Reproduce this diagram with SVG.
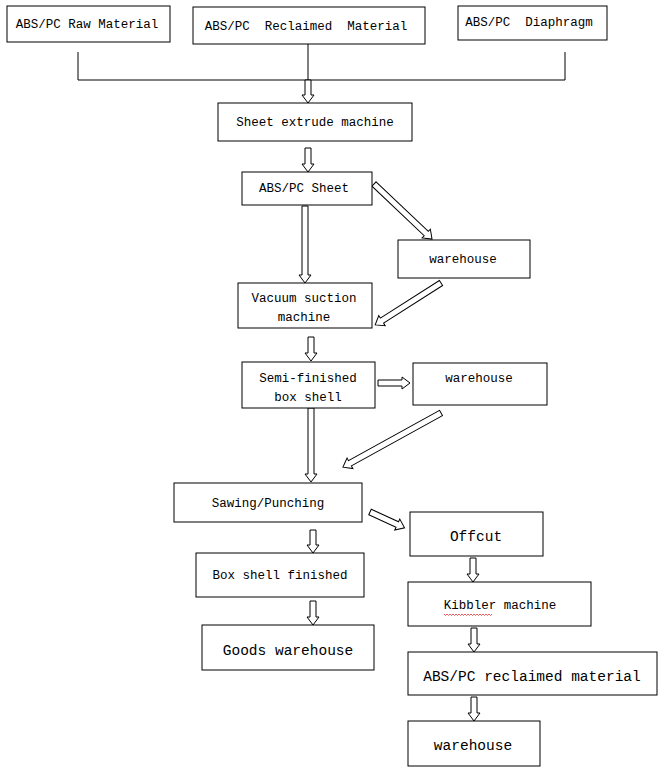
<svg xmlns="http://www.w3.org/2000/svg" width="668" height="778" viewBox="0 0 668 778">
<style>
.box{fill:#fff;stroke:#000;stroke-width:1}
.t{font-family:"Liberation Mono","DejaVu Sans Mono",monospace;font-size:12.5px;fill:#000;text-anchor:middle}
.tl{font-size:14.5px}
.ar{fill:#fff;stroke:#000;stroke-width:1}
.ln{fill:none;stroke:#000;stroke-width:1}
</style>
<rect width="668" height="778" fill="#fff"/>
<g id="connectors">
<path class="ln" d="M78,52V80H565V52M308,44V80"/>
<path class="ar" transform="translate(308,80) rotate(90)" d="M0,-3H15V-6L23,0L15,6V3H0Z"/>
<path class="ar" transform="translate(308,148) rotate(90)" d="M0,-3H16V-6L24,0L16,6V3H0Z"/>
<path class="ar" transform="translate(305,206) rotate(90)" d="M0,-3H69V-6L77,0L69,6V3H0Z"/>
<path class="ar" transform="translate(311,337) rotate(90)" d="M0,-3H16V-6L24,0L16,6V3H0Z"/>
<path class="ar" transform="translate(311,408) rotate(90)" d="M0,-3H66V-6L74,0L66,6V3H0Z"/>
<path class="ar" transform="translate(313,530) rotate(90)" d="M0,-3H15V-6L23,0L15,6V3H0Z"/>
<path class="ar" transform="translate(473,558) rotate(90)" d="M0,-3H16V-6L24,0L16,6V3H0Z"/>
<path class="ar" transform="translate(313,601) rotate(90)" d="M0,-3H16V-6L24,0L16,6V3H0Z"/>
<path class="ar" transform="translate(474,628) rotate(90)" d="M0,-3H16V-6L24,0L16,6V3H0Z"/>
<path class="ar" transform="translate(474,697) rotate(90)" d="M0,-3H16V-6L24,0L16,6V3H0Z"/>
<path class="ar" transform="translate(378,383)" d="M0,-3H24V-6L32,0L24,6V3H0Z"/>
<path class="ar" transform="translate(374,184) rotate(43.5)" d="M0,-3H72V-6L80,0L72,6V3H0Z"/>
<path class="ar" transform="translate(441,283) rotate(147.5)" d="M0,-3H70V-6L78,0L70,6V3H0Z"/>
<path class="ar" transform="translate(441,413) rotate(151.1)" d="M0,-3H104V-6L112,0L104,6V3H0Z"/>
<path class="ar" transform="translate(370,512) rotate(24.6)" d="M0,-3H30V-6L38,0L30,6V3H0Z"/>
</g>
<g id="raw"><rect class="box" x="7" y="6" width="163" height="36"/><text class="t" x="87" y="28">ABS/PC Raw Material</text></g>
<g id="reclaimed"><rect class="box" x="193" y="7" width="232" height="37"/><text class="t" x="306" y="30" xml:space="preserve">ABS/PC  Reclaimed  Material</text></g>
<g id="diaphragm"><rect class="box" x="458" y="6" width="149" height="34"/><text class="t" x="529" y="26" xml:space="preserve">ABS/PC  Diaphragm</text></g>
<g id="extrude"><rect class="box" x="218" y="103" width="194" height="38"/><text class="t" x="315" y="126">Sheet extrude machine</text></g>
<g id="sheet"><rect class="box" x="242" y="172" width="130" height="33"/><text class="t" x="304" y="192">ABS/PC Sheet</text></g>
<g id="warehouse1"><rect class="box" x="398" y="240" width="132" height="38"/><text class="t" x="463" y="263">warehouse</text></g>
<g id="vacuum"><rect class="box" x="238" y="283" width="134" height="45"/><text class="t" x="304" y="302">Vacuum suction</text><text class="t" x="304" y="321">machine</text></g>
<g id="semi"><rect class="box" x="242" y="362" width="133" height="46"/><text class="t" x="308" y="382">Semi-finished</text><text class="t" x="308" y="401">box shell</text></g>
<g id="warehouse2"><rect class="box" x="413" y="363" width="134" height="42"/><text class="t" x="479" y="382">warehouse</text></g>
<g id="sawing"><rect class="box" x="174" y="483" width="188" height="39"/><text class="t" x="268" y="507">Sawing/Punching</text></g>
<g id="offcut"><rect class="box" x="410" y="512" width="133" height="44"/><text class="t tl" x="476" y="541">Offcut</text></g>
<g id="finished"><rect class="box" x="196" y="553" width="168" height="44"/><text class="t" x="280" y="579">Box shell finished</text></g>
<g id="kibbler"><rect class="box" x="408" y="582" width="183" height="44"/><text class="t" x="500" y="609">Kibbler machine</text><path d="M444,614 l1.5,1.5 1.5,-1.5 1.5,1.5 1.5,-1.5 1.5,1.5 1.5,-1.5 1.5,1.5 1.5,-1.5 1.5,1.5 1.5,-1.5 1.5,1.5 1.5,-1.5 1.5,1.5 1.5,-1.5 1.5,1.5 1.5,-1.5 1.5,1.5 1.5,-1.5 1.5,1.5 1.5,-1.5 1.5,1.5 1.5,-1.5 1.5,1.5 1.5,-1.5 1.5,1.5 1.5,-1.5 1.5,1.5 1.5,-1.5 1.5,1.5 1.5,-1.5 1.5,1.5 1.5,-1.5" fill="none" stroke="#e03030" stroke-width="0.8"/></g>
<g id="goods"><rect class="box" x="202" y="625" width="172" height="45"/><text class="t tl" x="288" y="655">Goods warehouse</text></g>
<g id="reclaimed2"><rect class="box" x="408" y="652" width="249" height="43"/><text class="t tl" x="532" y="681">ABS/PC reclaimed material</text></g>
<g id="warehouse3"><rect class="box" x="408" y="721" width="132" height="45"/><text class="t tl" x="473" y="750">warehouse</text></g>
</svg>
